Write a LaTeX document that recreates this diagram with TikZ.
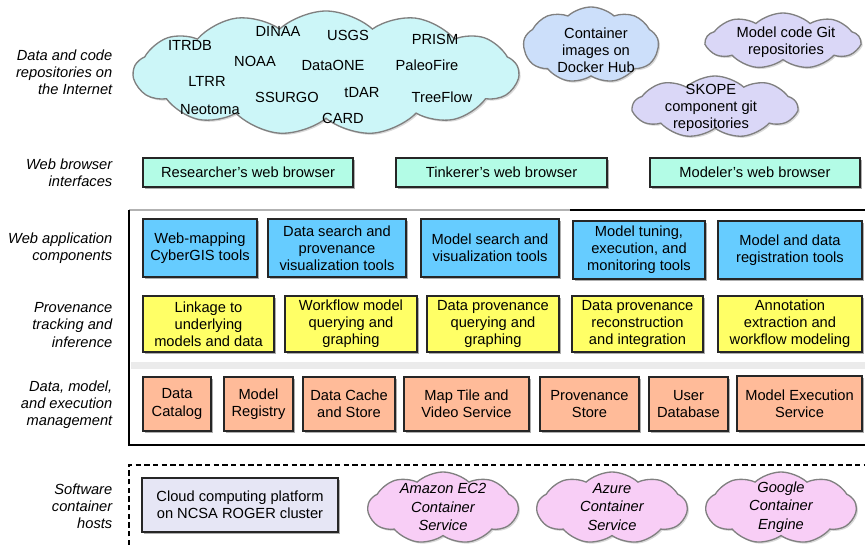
\documentclass[tikz,border=0pt]{standalone}
\usepackage{fontspec}
\setmainfont{Liberation Sans}
\usetikzlibrary{shapes.symbols,shadows}
\definecolor{appblue}{HTML}{66CCFF}
\definecolor{provyellow}{HTML}{FFFF66}
\definecolor{mgmtorange}{HTML}{FFBB99}
\definecolor{browsermint}{HTML}{B3FCE6}
\definecolor{hostgray}{HTML}{E6E6F5}
\definecolor{repocyan}{HTML}{CCF6F8}
\definecolor{dockerblue}{HTML}{CCDFFA}
\definecolor{gitlav}{HTML}{DAD7F7}
\definecolor{hostpink}{HTML}{F8CEF6}
\tikzset{
  boxbase/.style={draw=black!85, line width=0.8pt, align=center, inner sep=1pt,
    drop shadow={shadow xshift=1.6pt, shadow yshift=-1.6pt, opacity=0.45, fill=black!70}},
  bluebox/.style={boxbase, fill=appblue},
  yellowbox/.style={boxbase, fill=provyellow},
  orangebox/.style={boxbase, fill=mgmtorange},
  mintbox/.style={boxbase, fill=browsermint},
  lbl/.style={font=\fontsize{11}{12.8}\selectfont\itshape, align=right, anchor=east},
  cloudbase/.style={cloud, cloud ignores aspect, draw=black!50, line width=1pt, cloud puff arc=85,
    drop shadow={shadow xshift=1.2pt, shadow yshift=-1.2pt, opacity=0.3, fill=black!50}},
  ctext/.style={align=center, inner sep=0pt},
  itext/.style={align=center, inner sep=0pt, font=\fontsize{11}{13.8}\selectfont\itshape}
}
\begin{document}
\begin{tikzpicture}[x=0.75pt,y=-0.75pt, font=\fontsize{11}{12.8}\selectfont]
\useasboundingbox (0,0) rectangle (865,545);

% ---------- layer labels ----------
\node[lbl] (l1) at (117,72) {Data and code\\repositories on\\the Internet};
\node[lbl] (l2) at (117,172.5) {Web browser\\interfaces};
\node[lbl] (l3) at (117,248.5) {Web application\\components};
\node[lbl] (l4) at (117,325) {Provenance\\tracking and\\inference};
\node[lbl] (l5) at (117,404.5) {Data, model,\\and execution\\management};
\node[lbl] (l6) at (117,506) {Software\\container\\hosts};

% ---------- repositories cloud ----------
\node[cloudbase, fill=repocyan, cloud puffs=13, minimum width=385*0.75pt, minimum height=124*0.75pt] (repos) at (326,73) {};
\node[ctext] (r1) at (278,31) {DINAA};
\node[ctext] (r2) at (348,35) {USGS};
\node[ctext] (r3) at (435,39) {PRISM};
\node[ctext] (r4) at (190,45) {ITRDB};
\node[ctext] (r5) at (255,61) {NOAA};
\node[ctext] (r6) at (333,65) {DataONE};
\node[ctext] (r7) at (427,65) {PaleoFire};
\node[ctext] (r8) at (207,81) {LTRR};
\node[ctext] (r9) at (287,97) {SSURGO};
\node[ctext] (r10) at (362,93) {tDAR};
\node[ctext] (r11) at (442,97) {TreeFlow};
\node[ctext] (r12) at (210,110) {Neotoma};
\node[ctext] (r13) at (343,118) {CARD};

\node[cloudbase, fill=dockerblue, cloud puffs=9, minimum width=135*0.75pt, minimum height=76*0.75pt] (docker) at (591,45) {};
\node[ctext] (dockertxt) at (596,50) {Container\\images on\\Docker Hub};
\node[cloudbase, fill=gitlav, cloud puffs=9, minimum width=154*0.75pt, minimum height=56*0.75pt] (modelgit) at (783,41) {};
\node[ctext] (modelgittxt) at (786,42) {Model code Git\\repositories};
\node[cloudbase, fill=gitlav, cloud puffs=9, minimum width=164*0.75pt, minimum height=62*0.75pt] (skope) at (715,107) {};
\node[ctext] (skopetxt) at (711,108) {SKOPE\\component git\\repositories};

% ---------- browsers ----------
\node[mintbox, minimum width=210*0.75pt, minimum height=29*0.75pt] (b1) at (248,172.5) {Researcher’s web browser};
\node[mintbox, minimum width=211*0.75pt, minimum height=29*0.75pt] (b2) at (501.5,172.5) {Tinkerer’s web browser};
\node[mintbox, minimum width=210*0.75pt, minimum height=29*0.75pt] (b3) at (755,172.5) {Modeler’s web browser};

% ---------- frame ----------
\fill[black!8] (131,362) rectangle (865,369);
\draw[black!30, line width=0.8pt] (129,210) -- (570,210);
\draw[black, line width=1.5pt] (570,210) -- (865,210);
\draw[black, line width=1.6pt] (129,210) -- (129,445) -- (865,445);

% ---------- web application components ----------
\node[bluebox, minimum width=114*0.75pt, minimum height=58*0.75pt] (a1) at (200,248) {Web-mapping\\CyberGIS tools};
\node[bluebox, minimum width=138*0.75pt, minimum height=58*0.75pt] (a2) at (337,248) {Data search and\\provenance\\visualization tools};
\node[bluebox, minimum width=138*0.75pt, minimum height=58*0.75pt] (a3) at (490,248) {Model search and\\visualization tools};
\node[bluebox, minimum width=132*0.75pt, minimum height=58*0.75pt] (a4) at (639,250) {Model tuning,\\execution, and\\monitoring tools};
\node[bluebox, minimum width=144*0.75pt, minimum height=58*0.75pt] (a5) at (790,250) {Model and data\\registration tools};

% ---------- provenance ----------
\node[yellowbox, minimum width=131*0.75pt, minimum height=56*0.75pt] (p1) at (208.5,324) {Linkage to\\underlying\\models and data};
\node[yellowbox, minimum width=132*0.75pt, minimum height=56*0.75pt] (p2) at (351,324) {Workflow model\\querying and\\graphing};
\node[yellowbox, minimum width=132*0.75pt, minimum height=56*0.75pt] (p3) at (493,324) {Data provenance\\querying and\\graphing};
\node[yellowbox, minimum width=131*0.75pt, minimum height=56*0.75pt] (p4) at (637.5,324) {Data provenance\\reconstruction\\and integration};
\node[yellowbox, minimum width=144*0.75pt, minimum height=56*0.75pt] (p5) at (790,324) {Annotation\\extraction and\\workflow modeling};

% ---------- management ----------
\node[orangebox, minimum width=68*0.75pt, minimum height=54*0.75pt] (m1) at (177,404) {Data\\Catalog};
\node[orangebox, minimum width=69*0.75pt, minimum height=54*0.75pt] (m2) at (258.5,404) {Model\\Registry};
\node[orangebox, minimum width=92*0.75pt, minimum height=54*0.75pt] (m3) at (349,404) {Data Cache\\and Store};
\node[orangebox, minimum width=125*0.75pt, minimum height=54*0.75pt] (m4) at (466.5,404) {Map Tile and\\Video Service};
\node[orangebox, minimum width=99*0.75pt, minimum height=54*0.75pt] (m5) at (589.5,404) {Provenance\\Store};
\node[orangebox, minimum width=79*0.75pt, minimum height=54*0.75pt] (m6) at (688.5,404) {User\\Database};
\node[orangebox, minimum width=125*0.75pt, minimum height=55*0.75pt] (m7) at (799.5,403.5) {Model Execution\\Service};

% ---------- container hosts ----------
\draw[dashed, dash pattern=on 4pt off 2.5pt, line width=0.8pt] (129,545) -- (129,465) -- (865,465);
\node[boxbase, fill=hostgray, line width=1.6pt, minimum width=196*0.75pt, minimum height=54*0.75pt] (h0) at (240,505) {Cloud computing platform\\on NCSA ROGER cluster};
\node[cloudbase, fill=hostpink, cloud puffs=9, minimum width=150*0.75pt, minimum height=72*0.75pt] (h1) at (443,508) {};
\node[itext] (h1t) at (443,507) {Amazon EC2\\Container\\Service};
\node[cloudbase, fill=hostpink, cloud puffs=9, minimum width=150*0.75pt, minimum height=72*0.75pt] (h2) at (612,508) {};
\node[itext] (h2t) at (612,507) {Azure\\Container\\Service};
\node[cloudbase, fill=hostpink, cloud puffs=9, minimum width=150*0.75pt, minimum height=72*0.75pt] (h3) at (781,508) {};
\node[itext] (h3t) at (781,507) {Google\\Container\\Engine};
\end{tikzpicture}
\end{document}
